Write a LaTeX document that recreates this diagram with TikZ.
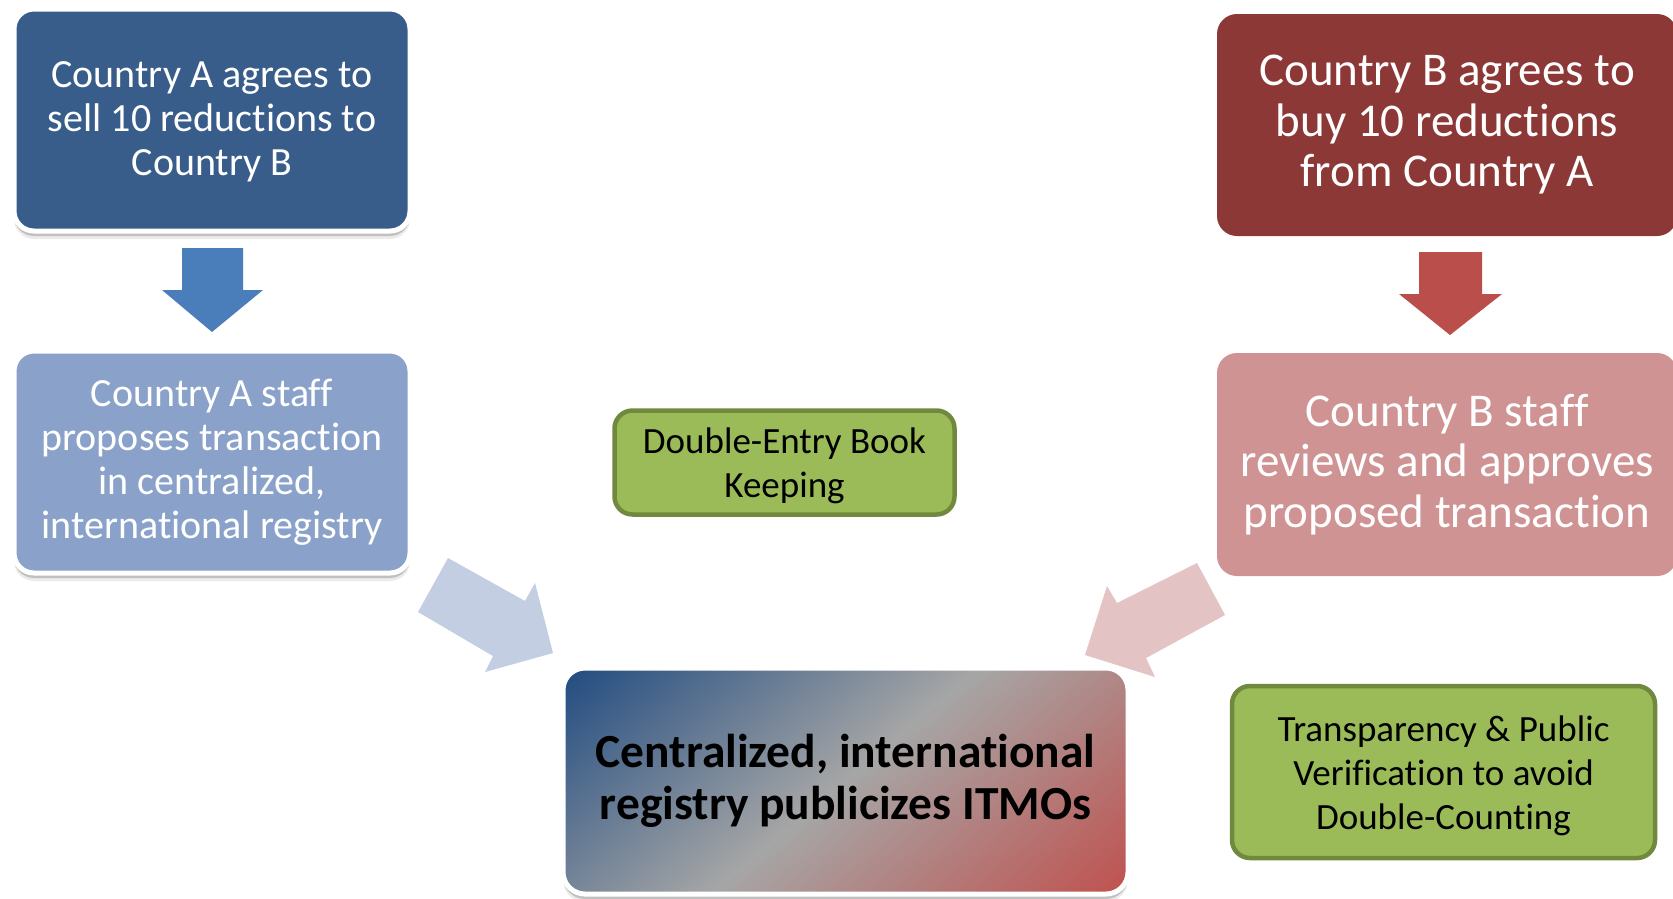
\documentclass[tikz,border=0pt]{standalone}
\usepackage{fontspec}
\setmainfont{Carlito}[Ligatures=NoCommon]
\usetikzlibrary{shadows}
\definecolor{aone}{HTML}{385D8A}
\definecolor{aarrow}{HTML}{4A7EBB}
\definecolor{atwo}{HTML}{8AA2CA}
\definecolor{adiag}{HTML}{C3CEE2}
\definecolor{bone}{HTML}{8C3836}
\definecolor{barrow}{HTML}{BA4E4B}
\definecolor{btwo}{HTML}{D09393}
\definecolor{bdiag}{HTML}{E3C3C4}
\definecolor{gfill}{HTML}{9BBB59}
\definecolor{gline}{HTML}{71893F}
\definecolor{cblue}{HTML}{1F4A80}
\definecolor{cgray}{HTML}{A6A6A6}
\definecolor{cred}{HTML}{C0504D}
\newcommand{\fsA}{\fontsize{40}{44}\selectfont}
\newcommand{\fsB}{\fontsize{47}{50.5}\selectfont}
\newcommand{\fsC}{\fontsize{47.5}{52.5}\selectfont\bfseries}
\newcommand{\fsG}{\fontsize{37}{44}\selectfont}
\begin{document}
\begin{tikzpicture}[x=1pt,y=-1pt,
  box/.style={rounded corners=20pt, align=center, inner sep=0pt},
  softshadow/.style={general shadow={fill=black,opacity=0.08,shadow yshift=-8pt},
                     general shadow={fill=black,opacity=0.18,shadow yshift=-5pt}},
  whitebox/.style={box, draw=white, line width=5pt, softshadow},
  gbox/.style={box, rounded corners=18pt, fill=gfill, draw=gline, line width=4.5pt},
  inlabel/.style={align=center, inner sep=0pt, label distance=0pt},
]
\clip (0,0) rectangle (1673,898);
\fill[white] (0,0) rectangle (1673,898);

% left column
\node[whitebox, fill=aone, minimum width=396pt, minimum height=222pt,
  label={[inlabel, yshift=-2pt, text=white, font=\fsA]center:{Country A agrees to\\sell 10 reductions to\\Country B}}]
  (a1) at (212,120) {};
\node[whitebox, fill=atwo, minimum width=396pt, minimum height=222pt, text=white, font=\fsA]
  (a2) at (212,462) {Country A staff\\proposes transaction\\in centralized,\\international registry};

% right column
\node[box, fill=bone, minimum width=460pt, minimum height=222pt, text=white, font=\fsB]
  (b1) at (1447,125) {Country B agrees to\\buy 10 reductions\\from Country A};
\node[box, fill=btwo, minimum width=460pt, minimum height=223pt, text=white, font=\fsB]
  (b2) at (1447,464.5) {Country B staff\\reviews and approves\\proposed transaction};

% centre: shadow, diagonal gradient, then border and text
\path[softshadow, fill=white, rounded corners=22pt] (563,668) rectangle (1128,894);
\begin{scope}
  \clip[rounded corners=22pt] (563,668) rectangle (1128,894);
  \begin{scope}[transform canvas={shift={(845.5,781)}, rotate=-50}]
    \shade[left color=cblue, right color=cred, middle color=cgray]
      (-270,-420) rectangle (270,420);
  \end{scope}
\end{scope}
\node[box, rounded corners=22pt, draw=white, line width=5pt,
  minimum width=565pt, minimum height=226pt, text=black, font=\fsC]
  (c) at (845.5,781) {Centralized, international\\registry publicizes ITMOs};

% green notes
\node[gbox, minimum width=340pt, minimum height=104pt,
  label={[inlabel, yshift=-3pt, font=\fsG]center:{Double-Entry Book\\Keeping}}]
  (de) at (784.5,462.5) {};
\node[gbox, minimum width=423pt, minimum height=172pt,
  label={[inlabel, yshift=-4pt, font=\fsG]center:{Transparency \& Public\\Verification to avoid\\Double-Counting}}]
  (tr) at (1443.5,772) {};

% block arrows
\fill[aarrow] (182,248) -- (243,248) -- (243,290) -- (263,290) -- (212,332)
  -- (162,290) -- (182,290) -- cycle;
\fill[barrow] (1419,252) -- (1482,252) -- (1482,294) -- (1502,294) -- (1450,335)
  -- (1399,294) -- (1419,294) -- cycle;
\fill[adiag] (448,558) -- (525,601) -- (535,583) -- (553,653) -- (485,672)
  -- (493,656) -- (418,612) -- cycle;
\fill[bdiag] (1197,563) -- (1117,603) -- (1107,586) -- (1085,655) -- (1155,677)
  -- (1146,658) -- (1225,615) -- cycle;
\end{tikzpicture}
\end{document}
